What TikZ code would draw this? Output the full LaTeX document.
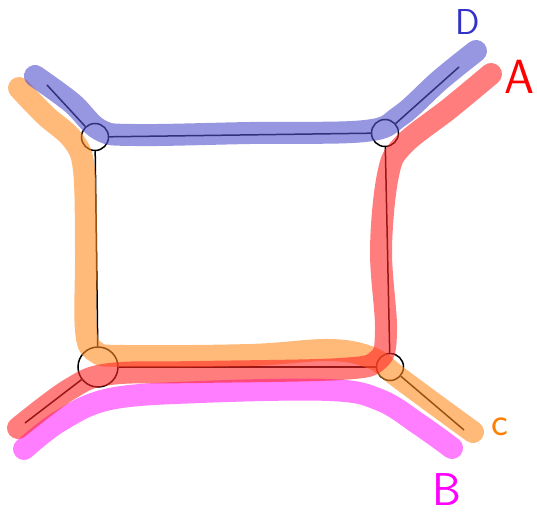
\documentclass[tikz,border=0pt]{standalone}
\usepackage{fontspec}
\usepackage{tikz}
\usetikzlibrary{positioning}
\definecolor{bandD}{RGB}{80,80,205}
\definecolor{bandA}{RGB}{255,38,38}
\definecolor{bandC}{RGB}{255,138,30}
\definecolor{bandB}{RGB}{255,38,255}
\definecolor{textD}{RGB}{50,50,200}
\definecolor{textA}{RGB}{255,0,0}
\definecolor{textC}{RGB}{255,128,0}
\definecolor{textB}{RGB}{255,0,255}

\begin{document}
\begin{tikzpicture}[
  x=1pt,y=-1pt,
  vtx/.style={draw, circle, line width=1.5pt, inner sep=0pt, minimum size=27pt},
  edge/.style={line width=1.5pt, black},
  band/.style={line width=22pt, line cap=round, line join=round, opacity=0.6},
  lbl/.style={font=\sffamily, inner sep=0pt}
]
\useasboundingbox (0,0) rectangle (537,516);

% vertices of the square
\node[vtx] (tl) at (95,137) {};
\node[vtx] (tr) at (385,133) {};
\node[vtx, minimum size=40pt] (bl) at (98,367) {};
\node[vtx] (br) at (390,367) {};

% free ends of the external legs
\coordinate (eD) at (47,85);
\coordinate (eA) at (459,67);
\coordinate (eB) at (25,423);
\coordinate (eC) at (464,430);

% black lines
\draw[edge] (tl) -- (tr);
\draw[edge] (tr) -- (br);
\draw[edge] (br) -- (bl);
\draw[edge] (bl) -- (tl);
\draw[edge] (eD) -- (tl);
\draw[edge] (eA) -- (tr);
\draw[edge] (eB) -- (bl);
\draw[edge] (eC) -- (br);

% coloured bands
\draw[band, bandB] plot[smooth, tension=0.6] coordinates {(24,449) (60,421) (110,399) (200,392) (330,390) (380,400) (420,425) (452,448)};
\draw[band, bandC] plot[smooth, tension=0.6] coordinates {(19,88) (45,115) (73,140) (84,170) (86,250) (86,330) (96,352) (125,356) (250,355) (330,350) (372,358) (398,377) (440,408) (473,432)};
\draw[band, bandA] plot[smooth, tension=0.6] coordinates {(491,74) (450,108) (403,145) (388,175) (381,250) (386,330) (378,360) (340,369) (200,372) (110,374) (70,389) (18,428)};
\draw[band, bandD] plot[smooth, tension=0.6] coordinates {(35,76) (72,103) (100,130) (135,135) (250,133) (365,131) (400,116) (440,80) (476,51)};

% labels
\node[lbl, text=textD, font=\sffamily\fontsize{36}{36}\selectfont] (labD) at (468,22) {D};
\node[lbl, text=textA, font=\sffamily\fontsize{48}{48}\selectfont] (labA) at (519,77) {A};
\node[lbl, text=textC, font=\sffamily\fontsize{40}{40}\selectfont] (labC) at (500,427) {c};
\node[lbl, text=textB, font=\sffamily\fontsize{46}{46}\selectfont] (labB) at (447,490) {B};

\end{tikzpicture}
\end{document}
